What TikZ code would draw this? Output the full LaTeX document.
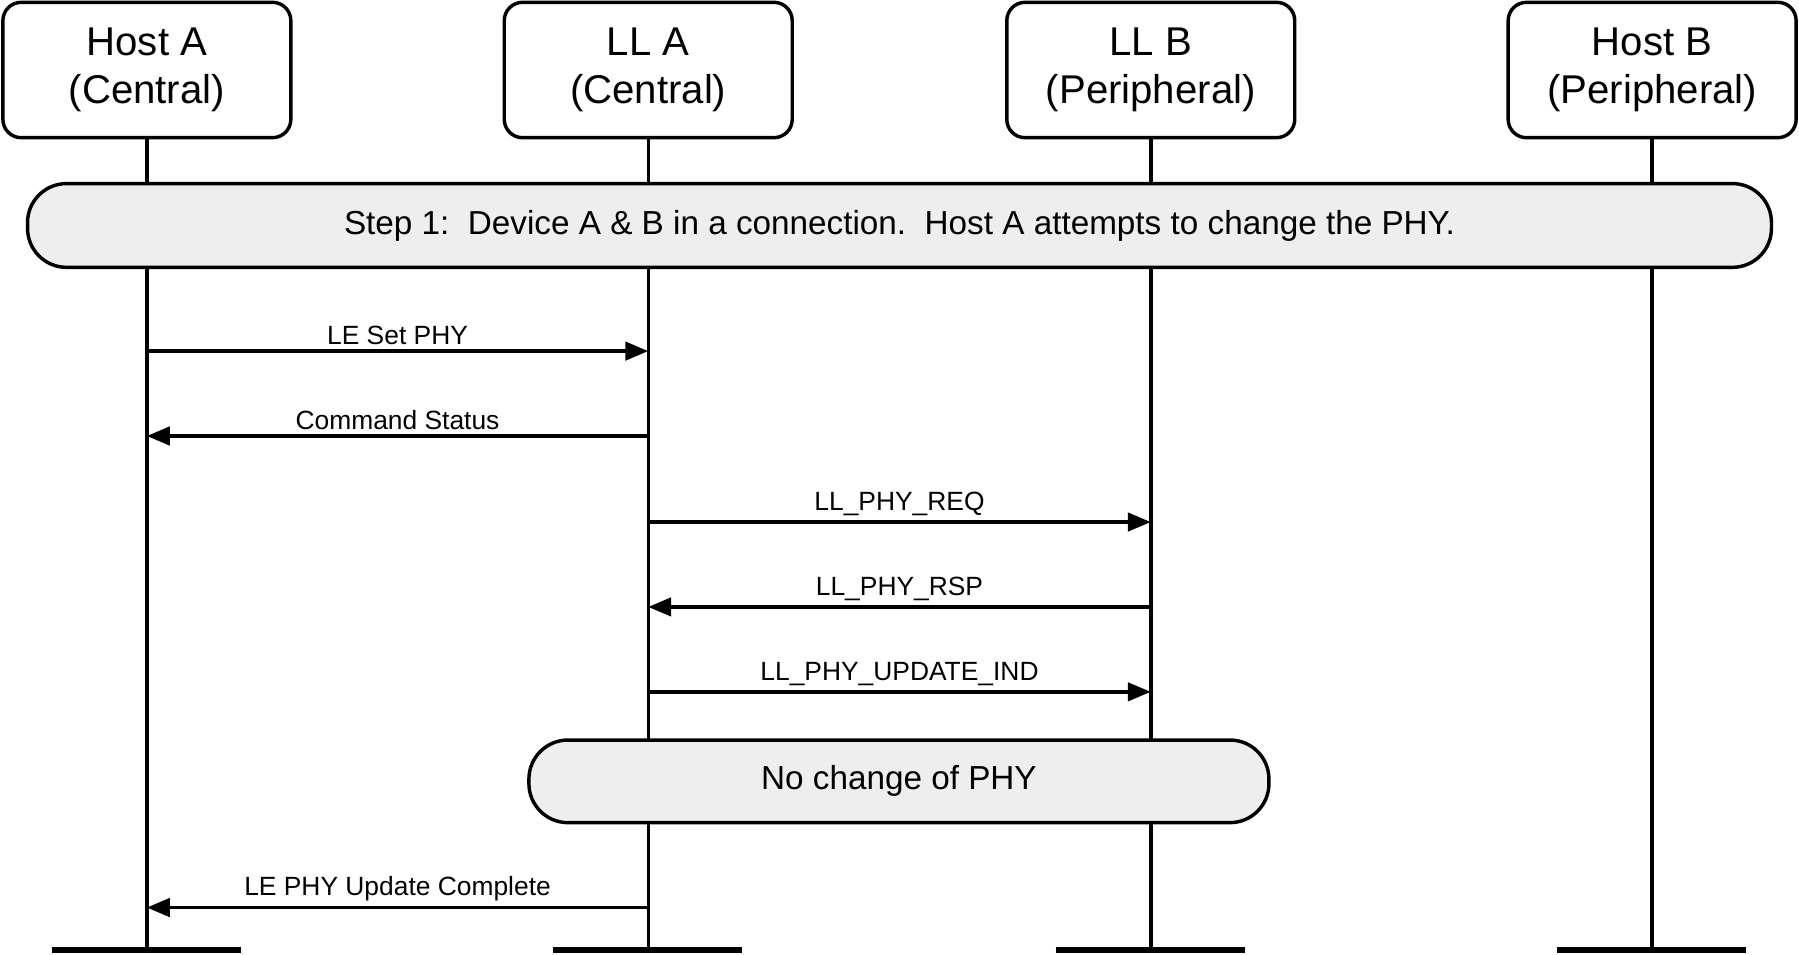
\documentclass[tikz,border=0pt]{standalone}
\usepackage{fontspec}
\setmainfont{Liberation Sans}
\usetikzlibrary{arrows.meta}
\begin{document}
\begin{tikzpicture}[x=0.5pt,y=-0.5pt,
  hdr/.style={draw,line width=1.5pt,rounded corners=8pt,minimum width=125.5pt,minimum height=59pt,align=center,font=\fontsize{17.5}{21}\selectfont,inner sep=0pt},
  band/.style={draw,line width=1.5pt,rounded corners=17pt,fill=gray!13,inner sep=0pt},
  life/.style={line width=1.5pt},
  msg/.style={line width=1.5pt,-{Triangle[length=10pt,width=8pt]}},
  lbl/.style={font=\fontsize{11.5}{13}\selectfont,above,inner sep=2pt},
  bar/.style={line width=3pt}]
\useasboundingbox (0,0) rectangle (1568,832);
\foreach \n/\x/\a/\b in {ha/128/Host A/(Central),la/565/LL A/(Central),lb/1003/LL B/(Peripheral),hb/1440/Host B/(Peripheral)}{
  \node[hdr] (\n) at (\x,61) {\a\\\b};
  \coordinate (\n e) at (\x,828);
  \draw[life] (\n.south) -- (\n e);
  \draw[bar] (\x-83,828) -- (\x+82,828);
}
\node[band,minimum width=760pt,minimum height=36.5pt,font=\fontsize{14.5}{17}\selectfont] (s1) at (784,196.5) {Step 1:\ \ Device A \& B in a connection.\ \ Host A attempts to change the PHY.};
\node[band,minimum width=322.5pt,minimum height=36pt,font=\fontsize{14.5}{17}\selectfont] (nc) at (783.5,681) {No change of PHY};
\foreach \y/\s/\t/\l in {306/ha/la/LE Set PHY,380/la/ha/Command Status,455/la/lb/LL\_PHY\_REQ,529/lb/la/LL\_PHY\_RSP,603/la/lb/LL\_PHY\_UPDATE\_IND,791/la/ha/LE PHY Update Complete}{
  \coordinate (p\y) at (\s|-0,\y);
  \coordinate (q\y) at (\t|-0,\y);
  \draw[msg] (p\y) -- (q\y) node[lbl,midway] {\l};
}
\end{tikzpicture}
\end{document}
